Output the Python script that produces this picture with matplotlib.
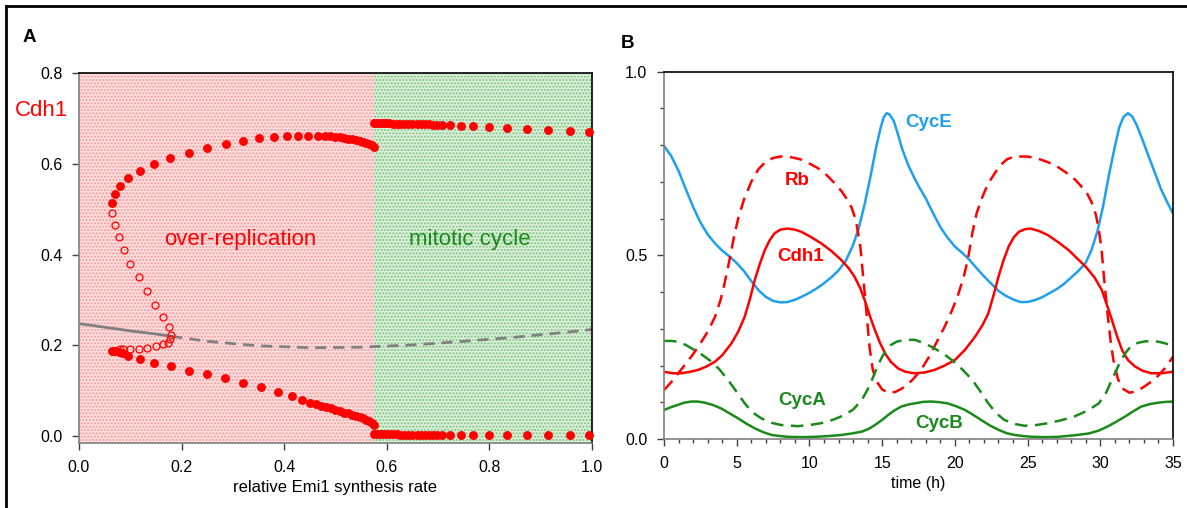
import matplotlib
matplotlib.use("Agg")
import matplotlib.pyplot as plt
import numpy as np

plt.rcParams['font.family'] = ['Liberation Sans', 'DejaVu Sans']
plt.rcParams['hatch.linewidth'] = 1.0

RED = '#ff0000'
GREEN = '#1a8a1a'
BLUE = '#1f9ff0'
GRAY = '#808080'

# ---------------- panel A data ----------------
# stable upper branch, over-replication side
x_up = [0.065, 0.071, 0.080, 0.096, 0.118, 0.146, 0.178, 0.214, 0.250, 0.286, 0.320,
        0.351, 0.380, 0.405, 0.427, 0.447, 0.465, 0.480, 0.490, 0.500, 0.508, 0.516,
        0.524, 0.532, 0.540, 0.547, 0.554, 0.560, 0.566, 0.571, 0.575]
y_up = [0.513, 0.533, 0.551, 0.568, 0.584, 0.599, 0.613, 0.623, 0.635, 0.643, 0.650,
        0.656, 0.659, 0.661, 0.662, 0.662, 0.662, 0.662, 0.661, 0.660, 0.659, 0.657,
        0.655, 0.654, 0.652, 0.650, 0.648, 0.646, 0.644, 0.641, 0.638]
# stable lower branch, over-replication side
x_lo = [0.065, 0.069, 0.073, 0.077, 0.083, 0.096, 0.118, 0.147, 0.179, 0.214, 0.249,
        0.285, 0.320, 0.355, 0.388, 0.415, 0.435, 0.450, 0.462, 0.472, 0.482, 0.491,
        0.500, 0.508, 0.516, 0.524, 0.532, 0.540, 0.547, 0.554, 0.560, 0.566, 0.571, 0.575]
y_lo = [0.188, 0.188, 0.187, 0.186, 0.184, 0.177, 0.170, 0.162, 0.155, 0.144, 0.137,
        0.128, 0.118, 0.108, 0.097, 0.088, 0.080, 0.074, 0.070, 0.067, 0.064, 0.061,
        0.058, 0.055, 0.052, 0.050, 0.047, 0.045, 0.042, 0.039, 0.036, 0.033, 0.029, 0.025]
# unstable branch (open circles)
x_un = [0.065, 0.070, 0.078, 0.088, 0.100, 0.117, 0.133, 0.149, 0.164, 0.175, 0.179,
        0.177, 0.174, 0.164, 0.150, 0.133, 0.117, 0.100, 0.086, 0.079]
y_un = [0.492, 0.466, 0.439, 0.410, 0.380, 0.350, 0.320, 0.289, 0.263, 0.241, 0.222,
        0.213, 0.206, 0.203, 0.199, 0.195, 0.193, 0.192, 0.191, 0.193]
# mitotic cycle side: max and min of oscillation
x_mit = [0.575, 0.580, 0.586, 0.592, 0.598, 0.605, 0.612, 0.619, 0.626, 0.634, 0.642,
         0.650, 0.658, 0.666, 0.674, 0.682, 0.690, 0.698, 0.708, 0.724, 0.745, 0.769,
         0.800, 0.834, 0.873, 0.914, 0.957, 0.995]
y_mit_max = [0.689, 0.689, 0.689, 0.689, 0.689, 0.689, 0.688, 0.688, 0.688, 0.688, 0.688,
             0.687, 0.687, 0.687, 0.687, 0.687, 0.686, 0.686, 0.686, 0.685, 0.684, 0.683,
             0.681, 0.679, 0.677, 0.675, 0.673, 0.671]
y_mit_min = [0.004, 0.004, 0.004, 0.004, 0.004, 0.004, 0.004, 0.004, 0.003, 0.003, 0.003,
             0.003, 0.003, 0.003, 0.003, 0.003, 0.003, 0.003, 0.003, 0.002, 0.002, 0.002,
             0.002, 0.002, 0.002, 0.002, 0.002, 0.002]
# steady state (gray)
x_ss_solid = [0.0, 0.05, 0.10, 0.15, 0.18]
y_ss_solid = [0.248, 0.240, 0.232, 0.225, 0.220]
x_ss_dash = [0.18, 0.25, 0.35, 0.45, 0.55, 0.65, 0.75, 0.85, 0.95, 1.0]
y_ss_dash = [0.220, 0.209, 0.199, 0.195, 0.196, 0.201, 0.209, 0.218, 0.229, 0.235]

# ---------------- panel B data ----------------
t_cyce = [0, 0.5, 1.0, 1.5, 2.0, 2.5, 3.0, 3.5, 4.0, 4.5, 5.0, 5.5, 6.0, 6.5, 7.0, 7.5,
          8.0, 8.5, 9.0, 9.5, 10.0, 10.5, 11.0, 11.5, 12.0, 12.5, 13.0, 13.4, 13.8, 14.2,
          14.6, 14.9, 15.1, 15.3, 15.5, 15.8, 16.1, 16.4, 16.8, 17.2, 17.6, 18.0, 18.5,
          19.0, 19.5, 20.0, 20.5, 21.0, 21.5, 22.0, 22.5, 23.0, 23.5, 24.0, 24.5, 25.0,
          25.5, 26.0, 26.5, 27.0, 27.5, 28.0, 28.5, 29.0, 29.4, 29.8, 30.2, 30.6, 31.0,
          31.3, 31.6, 31.9, 32.2, 32.5, 32.9, 33.3, 33.8, 34.2, 34.6, 35.0]
cyce = [0.798, 0.770, 0.730, 0.680, 0.632, 0.590, 0.557, 0.533, 0.513, 0.497, 0.479,
        0.457, 0.430, 0.405, 0.387, 0.376, 0.372, 0.373, 0.379, 0.388, 0.398, 0.410,
        0.424, 0.440, 0.459, 0.485, 0.528, 0.575, 0.640, 0.715, 0.797, 0.848, 0.875,
        0.887, 0.884, 0.866, 0.828, 0.787, 0.745, 0.712, 0.682, 0.655, 0.615, 0.577,
        0.548, 0.524, 0.507, 0.488, 0.465, 0.443, 0.423, 0.403, 0.390, 0.380, 0.373,
        0.373, 0.378, 0.386, 0.397, 0.408, 0.422, 0.440, 0.458, 0.480, 0.515, 0.565,
        0.635, 0.720, 0.796, 0.848, 0.877, 0.887, 0.878, 0.855, 0.815, 0.772, 0.720,
        0.678, 0.645, 0.614]

t_rb = [0, 0.5, 1.0, 1.5, 2.0, 2.5, 3.0, 3.5, 3.9, 4.2, 4.5, 4.8, 5.1, 5.5, 6.0, 6.5,
        7.0, 7.5, 8.0, 8.5, 9.0, 9.5, 10.0, 10.6, 11.2, 11.74, 12.2, 12.6, 12.9, 13.2,
        13.5, 13.8, 14.0, 14.15, 14.35, 14.6, 15.0, 15.4, 15.9, 16.3, 16.8, 17.2, 17.7,
        18.2, 18.7, 19.3, 19.8, 20.2, 20.6, 20.9, 21.2, 21.5, 21.9, 22.3, 22.8, 23.2,
        23.6, 24.1, 25.0, 25.5, 25.97, 26.5, 27.1, 27.7, 28.3, 28.8, 29.1, 29.4, 29.7,
        29.9, 30.1, 30.3, 30.5, 30.7, 30.9, 31.2, 31.5, 32.0, 32.5, 33.0, 33.5, 34.0,
        34.5, 35.0]
rb = [0.133, 0.155, 0.180, 0.205, 0.231, 0.260, 0.292, 0.332, 0.380, 0.430, 0.487, 0.548,
      0.600, 0.652, 0.700, 0.735, 0.755, 0.765, 0.769, 0.769, 0.765, 0.760, 0.750, 0.737,
      0.718, 0.696, 0.675, 0.652, 0.630, 0.595, 0.524, 0.397, 0.310, 0.245, 0.190, 0.158,
      0.135, 0.126, 0.128, 0.136, 0.150, 0.166, 0.190, 0.222, 0.260, 0.306, 0.350, 0.390,
      0.440, 0.490, 0.560, 0.615, 0.660, 0.696, 0.727, 0.748, 0.762, 0.769, 0.769, 0.765,
      0.760, 0.752, 0.740, 0.724, 0.705, 0.683, 0.668, 0.645, 0.610, 0.570, 0.510, 0.420,
      0.340, 0.270, 0.215, 0.165, 0.138, 0.126, 0.130, 0.142, 0.156, 0.173, 0.195, 0.224]

t_cdh1 = [0, 0.6, 1.2, 1.8, 2.34, 2.9, 3.49, 4.0, 4.63, 5.1, 5.55, 5.9, 6.24, 6.6, 6.93,
          7.25, 7.6, 8.0, 8.5, 9.0, 9.45, 10.1, 10.8, 11.5, 12.2, 12.7, 13.1, 13.5, 13.8,
          14.2, 14.5, 14.85, 15.2, 15.6, 16.1, 16.6, 17.2, 17.9, 18.6, 19.3, 20.0, 20.7,
          21.4, 21.9, 22.3, 22.65, 23.0, 23.35, 23.7, 24.05, 24.4, 24.8, 25.2, 25.8, 26.4,
          27.1, 27.8, 28.4, 29.0, 29.6, 30.1, 30.5, 30.8, 31.15, 31.5, 31.9, 32.4, 32.9,
          33.5, 34.2, 35.0]
cdh1 = [0.183, 0.179, 0.179, 0.183, 0.188, 0.197, 0.210, 0.228, 0.260, 0.292, 0.333, 0.380,
        0.433, 0.478, 0.514, 0.540, 0.560, 0.570, 0.573, 0.570, 0.564, 0.550, 0.533, 0.512,
        0.487, 0.465, 0.442, 0.410, 0.378, 0.330, 0.297, 0.262, 0.233, 0.210, 0.192, 0.183,
        0.179, 0.181, 0.188, 0.200, 0.215, 0.243, 0.279, 0.310, 0.342, 0.390, 0.442, 0.487,
        0.524, 0.549, 0.564, 0.571, 0.573, 0.566, 0.555, 0.536, 0.515, 0.492, 0.469, 0.440,
        0.406, 0.360, 0.324, 0.280, 0.242, 0.215, 0.197, 0.186, 0.179, 0.179, 0.183]

t_cyca = [0, 0.5, 0.96, 1.5, 2.1, 2.7, 3.25, 3.8, 4.4, 5.0, 5.55, 6.1, 6.7, 7.4, 8.07, 9.2,
          10.0, 10.8, 11.6, 12.4, 13.0, 13.6, 14.0, 14.3, 14.65, 15.0, 15.3, 15.6, 16.0,
          16.56, 17.25, 17.8, 18.4, 19.1, 19.8, 20.5, 21.2, 21.8, 22.3, 22.85, 23.4, 24.1,
          24.8, 25.6, 26.4, 27.3, 28.2, 29.1, 29.9, 30.4, 30.8, 31.25, 31.7, 32.1, 32.6,
          33.1, 33.6, 34.1, 34.5, 35.0]
cyca = [0.267, 0.267, 0.265, 0.256, 0.242, 0.227, 0.211, 0.190, 0.161, 0.128, 0.097, 0.072,
        0.056, 0.044, 0.038, 0.035, 0.038, 0.043, 0.052, 0.065, 0.080, 0.106, 0.135, 0.161,
        0.195, 0.224, 0.243, 0.256, 0.265, 0.270, 0.270, 0.262, 0.251, 0.235, 0.215, 0.190,
        0.161, 0.127, 0.097, 0.070, 0.052, 0.041, 0.036, 0.038, 0.043, 0.051, 0.061, 0.077,
        0.097, 0.126, 0.161, 0.200, 0.233, 0.252, 0.262, 0.266, 0.267, 0.264, 0.260, 0.253]

t_cycb = [0, 0.5, 0.96, 1.4, 1.88, 2.3, 2.8, 3.4, 3.94, 4.5, 5.1, 5.7, 6.24, 6.8, 7.4, 8.0,
          8.5, 9.5, 10.4, 11.3, 12.2, 12.9, 13.6, 14.1, 14.5, 15.0, 15.4, 15.85, 16.3,
          16.8, 17.25, 17.8, 18.4, 19.0, 19.5, 20.1, 20.7, 21.25, 21.8, 22.4, 23.0, 23.55,
          24.1, 24.7, 25.3, 26.2, 27.1, 28.2, 29.2, 29.9, 30.5, 31.1, 31.7, 32.25, 32.8,
          33.4, 34.0, 34.5, 35.0]
cycb = [0.079, 0.087, 0.093, 0.099, 0.102, 0.102, 0.099, 0.092, 0.083, 0.070, 0.056, 0.041,
        0.029, 0.019, 0.011, 0.008, 0.006, 0.005, 0.006, 0.008, 0.011, 0.015, 0.020, 0.028,
        0.038, 0.052, 0.065, 0.078, 0.088, 0.094, 0.097, 0.101, 0.102, 0.100, 0.097, 0.089,
        0.079, 0.066, 0.052, 0.037, 0.025, 0.016, 0.011, 0.008, 0.006, 0.005, 0.006, 0.010,
        0.015, 0.023, 0.034, 0.047, 0.061, 0.075, 0.088, 0.095, 0.099, 0.101, 0.102]

W, H = 1187, 508
fig = plt.figure(figsize=(W / 100, H / 100), dpi=100)


def px_axes(left, top, right, bottom):
    return fig.add_axes([left / W, 1 - bottom / H, (right - left) / W, (bottom - top) / H])


def style_spines(ax):
    ax.spines['left'].set_color(GRAY)
    ax.spines['bottom'].set_color(GRAY)
    ax.spines['top'].set_color('black')
    ax.spines['right'].set_color('black')
    for s in ax.spines.values():
        s.set_linewidth(1.2)
    ax.tick_params(which='both', direction='out', colors='black', labelsize=11.5,
                   pad=7)
    ax.tick_params(which='major', length=5, width=1, color='#404040')
    ax.tick_params(which='minor', length=3, width=1, color='#404040')


# ---------------- panel A ----------------
axA = px_axes(79, 73, 592, 443)
axA.set_xlim(0, 1.0)
axA.set_ylim(-0.015, 0.8)
axA.axvspan(0, 0.575, facecolor='#fcdede', hatch='.....', edgecolor='#f59a9a',
            linewidth=0, zorder=0)
axA.axvspan(0.575, 1.0, facecolor='#dcefdc', hatch='.....', edgecolor='#7cc47c',
            linewidth=0, zorder=0)

axA.plot(x_ss_solid, y_ss_solid, color=GRAY, lw=2, zorder=2)
axA.plot(x_ss_dash, y_ss_dash, color=GRAY, lw=2, ls=(0, (4, 2.5)), zorder=2)

ms = 6.4
axA.plot(x_up, y_up, 'o', color=RED, ms=ms, mew=0, zorder=3)
axA.plot(x_lo, y_lo, 'o', color=RED, ms=ms, mew=0, zorder=3)
axA.plot(x_mit, y_mit_max, 'o', color=RED, ms=ms, mew=0, zorder=3, clip_on=False)
axA.plot(x_mit, y_mit_min, 'o', color=RED, ms=ms, mew=0, zorder=3, clip_on=False)
axA.plot(x_un, y_un, 'o', mfc='none', mec=RED, ms=5.0, mew=0.9, zorder=3)

axA.set_xticks(np.arange(0, 1.01, 0.2))
axA.set_yticks(np.arange(0, 0.81, 0.2))
axA.xaxis.set_major_formatter(matplotlib.ticker.FormatStrFormatter('%.1f'))
axA.yaxis.set_major_formatter(matplotlib.ticker.FormatStrFormatter('%.1f'))
style_spines(axA)
axA.set_xlabel('relative Emi1 synthesis rate', fontsize=12, labelpad=4)

axA.text(0.314, 0.434, 'over-replication', color=RED, fontsize=16,
         ha='center', va='center')
axA.text(0.762, 0.434, 'mitotic cycle', color=GREEN, fontsize=16,
         ha='center', va='center')
fig.text(42 / W, 1 - 110 / H, 'Cdh1', color=RED, fontsize=16, ha='center', va='center')
fig.text(29 / W, 1 - 37 / H, 'A', fontsize=13.5, fontweight='bold', ha='center', va='center')

# ---------------- panel B ----------------
axB = px_axes(664, 71.7, 1173, 439)
axB.set_xlim(0, 35)
axB.set_ylim(0, 1.0)
lw = 1.8
dash = (0, (5, 3))
axB.plot(t_cyce, cyce, color=BLUE, lw=lw)
axB.plot(t_rb, rb, color=RED, lw=lw, ls=dash)
axB.plot(t_cdh1, cdh1, color=RED, lw=lw)
axB.plot(t_cyca, cyca, color=GREEN, lw=lw, ls=dash)
axB.plot(t_cycb, cycb, color=GREEN, lw=lw)

axB.set_xticks(np.arange(0, 36, 5))
axB.set_xticks(np.arange(0, 36, 1), minor=True)
axB.set_yticks([0, 0.5, 1.0])
axB.set_yticks(np.arange(0, 1.01, 0.1), minor=True)
axB.yaxis.set_major_formatter(matplotlib.ticker.FormatStrFormatter('%.1f'))
style_spines(axB)
axB.set_xlabel('time (h)', fontsize=11.5, labelpad=4)

lab = dict(fontsize=13.5, fontweight='bold', ha='center', va='center')
axB.text(18.2, 0.863, 'CycE', color=BLUE, **lab)
axB.text(9.17, 0.703, 'Rb', color=RED, **lab)
axB.text(9.4, 0.496, 'Cdh1', color=RED, **lab)
axB.text(9.5, 0.104, 'CycA', color=GREEN, **lab)
axB.text(18.9, 0.041, 'CycB', color=GREEN, **lab)
fig.text(628 / W, 1 - 43 / H, 'B', fontsize=13.5, fontweight='bold', ha='center', va='center')

# figure frame (top and left edges)
fig.add_artist(plt.Line2D([6 / W, 1], [1 - 6 / H, 1 - 6 / H], color='black', lw=2,
                          transform=fig.transFigure))
fig.add_artist(plt.Line2D([6 / W, 6 / W], [0, 1 - 6 / H], color='black', lw=2,
                          transform=fig.transFigure))

fig.savefig('out.png', dpi=100)
